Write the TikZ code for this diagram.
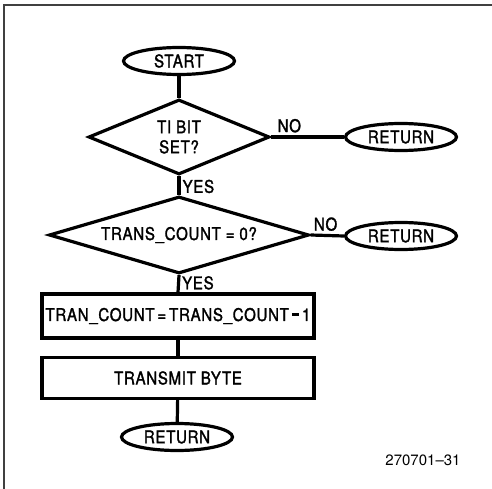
\documentclass[tikz,border=0pt]{standalone}
\usepackage{fontspec}
\setmainfont{TeX Gyre Heros}
\newfontfamily\chartfont{TeX Gyre Heros}[FakeStretch=0.86,FakeBold=1.6,LetterSpace=4]
\newcommand{\barminus}{\rule[0.28em]{0.42em}{0.16em}}
\usetikzlibrary{shapes.geometric}
\tikzset{
    flowline/.style={draw=black, line width=3.2pt},
    terminal/.style={ellipse, draw=black, line width=3.2pt, inner sep=0pt,
        minimum width=111pt, minimum height=27pt, font=\chartfont\fontsize{17.5}{19}\selectfont},
    decision/.style={diamond, draw=black, line width=3.2pt, inner sep=0pt, align=center,
        font=\chartfont\fontsize{17.5}{20}\selectfont},
    process/.style={rectangle, draw=black, line width=3.2pt, inner sep=0pt,
        minimum width=272pt, font=\chartfont\fontsize{17.5}{19}\selectfont},
    branch/.style={font=\chartfont\fontsize{17.5}{19}\selectfont, inner sep=1pt},
    frame/.style={draw=black!75, line width=1.6pt}
}
\begin{document}
\begin{tikzpicture}[x=1pt,y=-1pt,line join=miter]
	\useasboundingbox (0,0) rectangle (492,489);
	\draw[frame] (492,5) -- (4,5) -- (4,489);
	% main column
	\node[terminal] (start) at (179,61) {START};
	\node[decision,aspect=2.4,minimum width=181pt,minimum height=75pt] (tibit) at (179,137) {TI BIT\\SET?};
	\node[decision,aspect=3.4,minimum width=260pt,minimum height=77pt] (count) at (179,235) {TRANS\_COUNT = 0?};
	\node[process,minimum height=44pt] (dec) at (178,316) {TRAN\_COUNT\,=\,TRANS\_COUNT\,\barminus\,1};
	\node[process,minimum height=41pt] (send) at (178,378) {TRANSMIT BYTE};
	\node[terminal] (done) at (177,437) {RETURN};
	% side exits
	\node[terminal] (retbit) at (401,137) {RETURN};
	\node[terminal] (retcount) at (401,236) {RETURN};
	\draw[flowline] (start) -- (tibit.north);
	\draw[flowline] (tibit.east) -- node[branch,pos=0.25,above=2pt] {NO} (retbit.west);
	\draw[flowline] (tibit.south) -- node[branch,pos=0.55,right=1pt] {YES} (count.north);
	\draw[flowline] (count.east) -- node[branch,pos=0.45,above=2pt] {NO} (retcount.west);
	\draw[flowline] (count.south) -- node[branch,pos=0.45,right=1pt] {YES} (dec.north);
	\draw[flowline] (dec) -- (send);
	\draw[flowline] (send) -- (done);
	\node[font=\fontsize{15}{17}\selectfont] (figno) at (423,460) {270701--31};
\end{tikzpicture}
\end{document}
